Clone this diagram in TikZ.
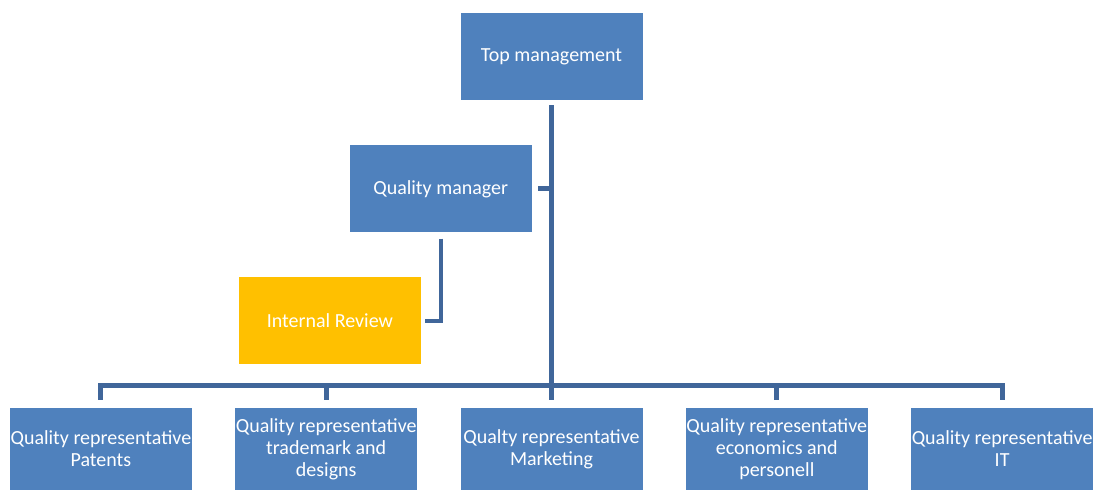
\documentclass[tikz,border=0pt]{standalone}
\usepackage{fontspec}
\setmainfont{Carlito}
\usetikzlibrary{positioning,calc}

\definecolor{boxblue}{RGB}{79,129,189}
\definecolor{boxgold}{RGB}{255,192,0}
\definecolor{linkblue}{RGB}{64,102,154}

\begin{document}
\begin{tikzpicture}[
  unit/.style={fill=boxblue,text=white,minimum width=91pt,minimum height=41pt,
    inner sep=0pt,align=center,font=\fontsize{10pt}{11pt}\selectfont},
  head/.style={unit,minimum height=43.5pt},
  review/.style={head,fill=boxgold},
  link/.style={draw=linkblue,line width=2.5pt},
  node distance=21.25pt]

\useasboundingbox (0,0) rectangle (549pt,-244.5pt);

\node[head]   (tm) at (275.75pt,-28.25pt) {Top management};
 \node[head]   (qm) [below left=22.25pt and -36pt of tm] {Quality manager};
 \node[review] (ir) [below left=22pt and -36pt of qm]    {Internal Review};

 \node[unit] (marketing) [below=153.5pt of tm]   {Qualty representative\\Marketing};
 \node[unit] (trademark) [left=of marketing]     {Quality representative\\trademark and\\designs};
 \node[unit] (patents)   [left=of trademark]     {Quality representative\\Patents};
 \node[unit] (economics) [right=of marketing]    {Quality representative\\economics and\\personell};
 \node[unit] (it)        [right=of economics]    {Quality representative\\IT};

\coordinate (bus) at ($(marketing.north)+(0,11pt)$);

	% trunk and bus
	\draw[link,shorten <=2.5pt] (tm.south) -- (bus);
	\draw[link,line cap=rect] (bus -| patents.north) -- (bus -| it.north);
	\foreach \q in {patents,trademark,marketing,economics,it}
		\draw[link,shorten >=3.5pt] (bus -| \q.north) -- (\q.north);

	% staff units
	\draw[link,shorten <=3pt] (qm.east) -- (qm.east -| tm.south);
	\draw[link,line width=2pt,shorten <=3pt,shorten >=2pt] (qm.south) |- (ir.east);
\end{tikzpicture}
\end{document}
